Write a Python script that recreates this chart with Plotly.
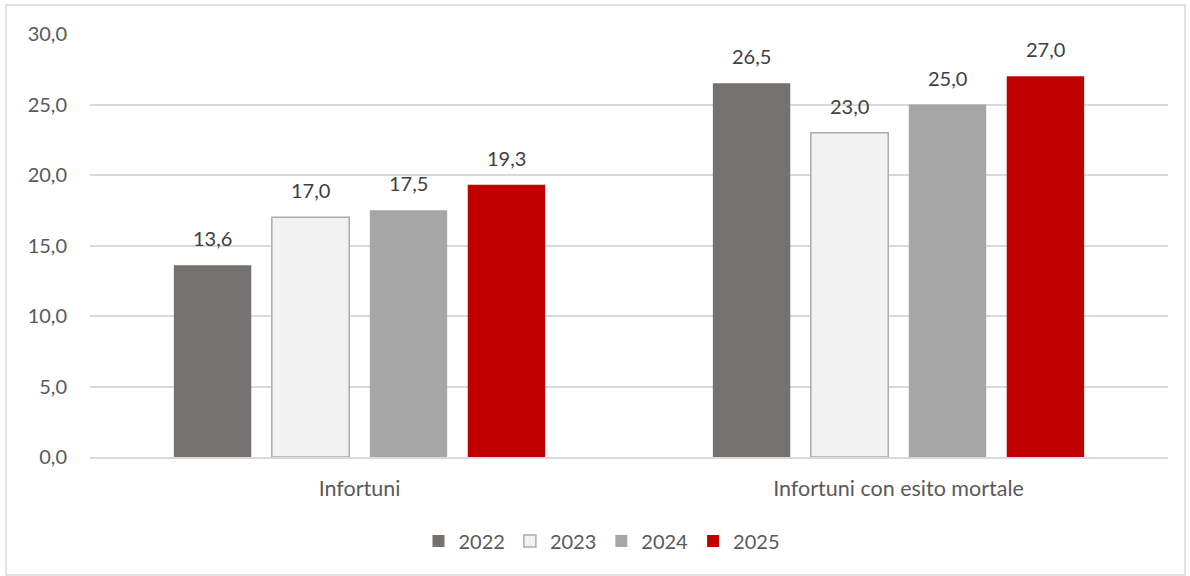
import plotly.graph_objects as go

categories = ["Infortuni", "Infortuni con esito mortale"]
years = ["2022", "2023", "2024", "2025"]
values_2022 = [13.6, 26.5]
values_2023 = [17.0, 23.0]
values_2024 = [17.5, 25.0]
values_2025 = [19.3, 27.0]
y_ticks = [0, 5, 10, 15, 20, 25, 30]

series = [values_2022, values_2023, values_2024, values_2025]
fills = ["#767171", "#F2F2F2", "#A6A6A6", "#C00000"]
lines = ["#767171", "#AFABAB", "#A6A6A6", "#C00000"]

FONT = "Lato, 'Open Sans', sans-serif"
W, H = 1190, 576
ML, MR, MT, MB = 90, 22, 34, 119
PW = W - ML - MR
PH = H - MT - MB

fig = go.Figure()
for name, vals, fc, lc in zip(years, series, fills, lines):
    fig.add_trace(go.Bar(
        name=name, x=categories, y=vals,
        marker=dict(color=fc, line=dict(color=lc, width=1.5 if fc == "#F2F2F2" else 0)),
    ))

step = PW / len(categories) * (1 - 0.273) / len(years)
annotations = []
for i, vals in enumerate(series):
    for c, v in zip(categories, vals):
        annotations.append(dict(
            x=c, y=v, xref="x", yref="y", text=f"{v:.1f}".replace(".", ","),
            showarrow=False, yanchor="bottom", yshift=13,
            xshift=(i - 1.5) * step,
            font=dict(family=FONT, size=20, color="#404040"),
        ))

fig.update_layout(
    width=W, height=H,
    margin=dict(l=ML, r=MR, t=MT, b=MB),
    paper_bgcolor="white", plot_bgcolor="white",
    barmode="group", bargap=0.273, bargroupgap=0.21,
    separators=",.",
    font=dict(family=FONT, size=20, color="#595959"),
    xaxis=dict(showgrid=False, showline=True, linecolor="#D9D9D9", linewidth=1.5,
               ticks="", tickfont=dict(size=21.5, color="#595959"), ticklabelstandoff=11),
    yaxis=dict(range=[0, 30], tickvals=y_ticks, tickformat=".1f",
               showgrid=True, gridcolor="#D9D9D9", gridwidth=1.5,
               zeroline=False, showline=False, ticks="",
               tickfont=dict(size=20, color="#595959"), ticklabelstandoff=22),
    legend=dict(orientation="h", x=(602 - ML) / PW, xanchor="center",
                y=(MT + PH - 541) / PH, yanchor="middle",
                font=dict(size=20, color="#595959"), itemwidth=30,
                traceorder="normal"),
    annotations=annotations,
    shapes=[dict(type="rect", xref="paper", yref="paper",
                 x0=(6 - ML) / PW, x1=(1185 - ML) / PW,
                 y0=(MT + PH - 575) / PH, y1=(MT + PH - 5) / PH,
                 line=dict(color="#D9D9D9", width=1.5), fillcolor="rgba(0,0,0,0)",
                 layer="below")],
)

fig.write_html("out.html", config={"displayModeBar": False},
               post_script="document.body.style.margin='0';")
